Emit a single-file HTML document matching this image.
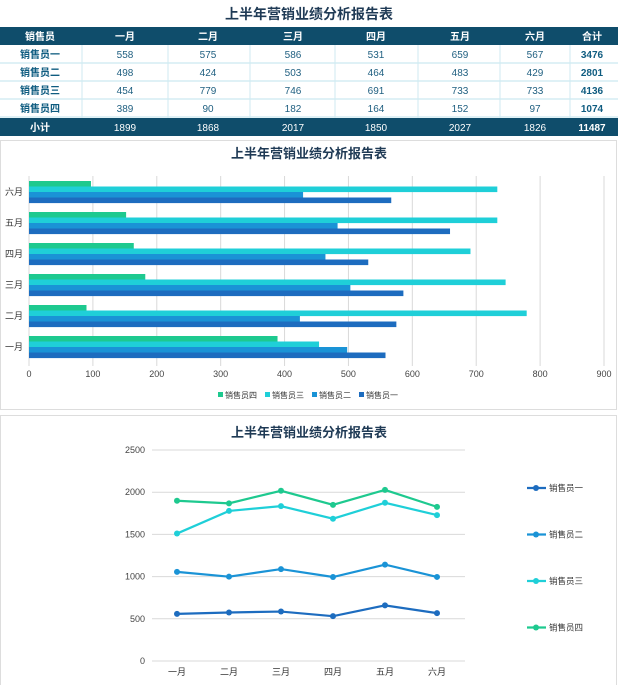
<!DOCTYPE html>
<html><head><meta charset="utf-8"><style>
body{margin:0;background:#fff;width:618px;height:685px;overflow:hidden;font-family:"Liberation Sans","Noto Sans CJK SC",sans-serif;}
svg{position:absolute;left:0;top:0}
</style></head><body>
<svg id="s" width="618" height="685" xmlns="http://www.w3.org/2000/svg" font-family="Liberation Sans, Noto Sans CJK SC, sans-serif"></svg>
<script>
const d=[[558,575,586,531,659,567],[498,424,503,464,483,429],[454,779,746,691,733,733],[389,90,182,164,152,97]];
const tot=[3476,2801,4136,1074],sub=[1899,1868,2017,1850,2027,1826];
const mon=["一月","二月","三月","四月","五月","六月"],names=["销售员一","销售员二","销售员三","销售员四"];
const col=["#1d6cbf","#1a93d6","#1fcfd8","#1ec98f"];
let h='';
const T=(x,y,t,o)=>`<text x="${x}" y="${y}" ${o||''}>${t}</text>`;
// table
h+=T(309,19,"上半年营销业绩分析报告表",'text-anchor="middle" font-size="14" font-weight="bold" fill="#1f3a55"');
h+='<rect x="0" y="27" width="618" height="18" fill="#0f4d6b"/>';
h+='<rect x="0" y="118" width="618" height="18" fill="#0f4d6b"/>';
const cx=[40,125,208,293,376,460,535,592];
const bx=[82,168,250,335,418,500,570];
for(let r=0;r<4;r++){h+=`<line x1="0" x2="618" y1="${63+r*18}" y2="${63+r*18}" stroke="#bfe3ee"/>`;}
bx.forEach(x=>h+=`<line x1="${x}" x2="${x}" y1="45" y2="118" stroke="#cfeaf2"/>`);
const hd=["销售员",...mon,"合计"];
hd.forEach((t,i)=>h+=T(cx[i],40,t,'text-anchor="middle" font-size="10" font-weight="bold" fill="#fff"'));
for(let r=0;r<4;r++){const y=58+r*18;
 h+=T(cx[0],y,names[r],'text-anchor="middle" font-size="10" font-weight="bold" fill="#0f5c80"');
 d[r].forEach((v,i)=>h+=T(cx[i+1],y,v,'text-anchor="middle" font-size="10" fill="#1f5f80"'));
 h+=T(cx[7],y,tot[r],'text-anchor="middle" font-size="10" font-weight="bold" fill="#0f5c80"');}
h+=T(cx[0],131,"小计",'text-anchor="middle" font-size="10" font-weight="bold" fill="#fff"');
sub.forEach((v,i)=>h+=T(cx[i+1],131,v,'text-anchor="middle" font-size="10" fill="#fff"'));
h+=T(cx[7],131,11487,'text-anchor="middle" font-size="10" font-weight="bold" fill="#fff"');
// bar chart panel
h+='<rect x="0.5" y="140.5" width="616" height="269" fill="#fff" stroke="#ddd"/>';
h+=T(309,158,"上半年营销业绩分析报告表",'text-anchor="middle" font-size="13" font-weight="bold" fill="#1f3a55"');
const sx=575/900;
for(let k=0;k<=9;k++){const x=29+k*100*sx;h+=`<line x1="${x}" x2="${x}" y1="176" y2="366" stroke="#d9d9d9"/>`;h+=T(x,377,k*100,'text-anchor="middle" font-size="9" fill="#444"');}
for(let m=0;m<6;m++){const top=181+(5-m)*31;
 h+=T(14,top+14,mon[m],'text-anchor="middle" font-size="9" fill="#333"');
 for(let s=3;s>=0;s--){const y=top+(3-s)*5.5;h+=`<rect x="29" y="${y}" width="${d[s][m]*sx}" height="5.6" fill="${col[s]}"/>`;}}
const lg=[[218,3],[265,2],[312,1],[359,0]];
lg.forEach(([x,s])=>{h+=`<rect x="${x}" y="392" width="5" height="5" fill="${col[s]}"/>`;h+=T(x+7,398,names[s],'font-size="8" fill="#333"');});
// line chart panel
h+='<rect x="0.5" y="415.5" width="616" height="270" fill="#fff" stroke="#ddd"/>';
h+=T(309,437,"上半年营销业绩分析报告表",'text-anchor="middle" font-size="13" font-weight="bold" fill="#1f3a55"');
const Y=v=>661-v*211/2500;
for(let k=0;k<=5;k++){const y=Y(k*500);h+=`<line x1="152" x2="465" y1="${y}" y2="${y}" stroke="#d9d9d9"/>`;h+=T(145,y+3,k*500,'text-anchor="end" font-size="9" fill="#444"');}
const X=i=>177+i*52;
mon.forEach((t,i)=>h+=T(X(i),675,t,'text-anchor="middle" font-size="9" fill="#333"'));
let cum=[0,0,0,0,0,0];
for(let s=0;s<4;s++){cum=cum.map((c,i)=>c+d[s][i]);
 h+=`<polyline fill="none" stroke="${col[s]}" stroke-width="2.2" points="${cum.map((c,i)=>X(i)+','+Y(c)).join(' ')}"/>`;
 cum.forEach((c,i)=>h+=`<circle cx="${X(i)}" cy="${Y(c)}" r="3" fill="${col[s]}"/>`);
 const ly=488+s*46.5;
 h+=`<line x1="527" x2="546" y1="${ly}" y2="${ly}" stroke="${col[s]}" stroke-width="2.2"/><circle cx="536" cy="${ly}" r="3" fill="${col[s]}"/>`;
 h+=T(549,ly+3,names[s],'font-size="8.5" fill="#333"');}
document.getElementById('s').innerHTML=h;
</script>
</body></html>
